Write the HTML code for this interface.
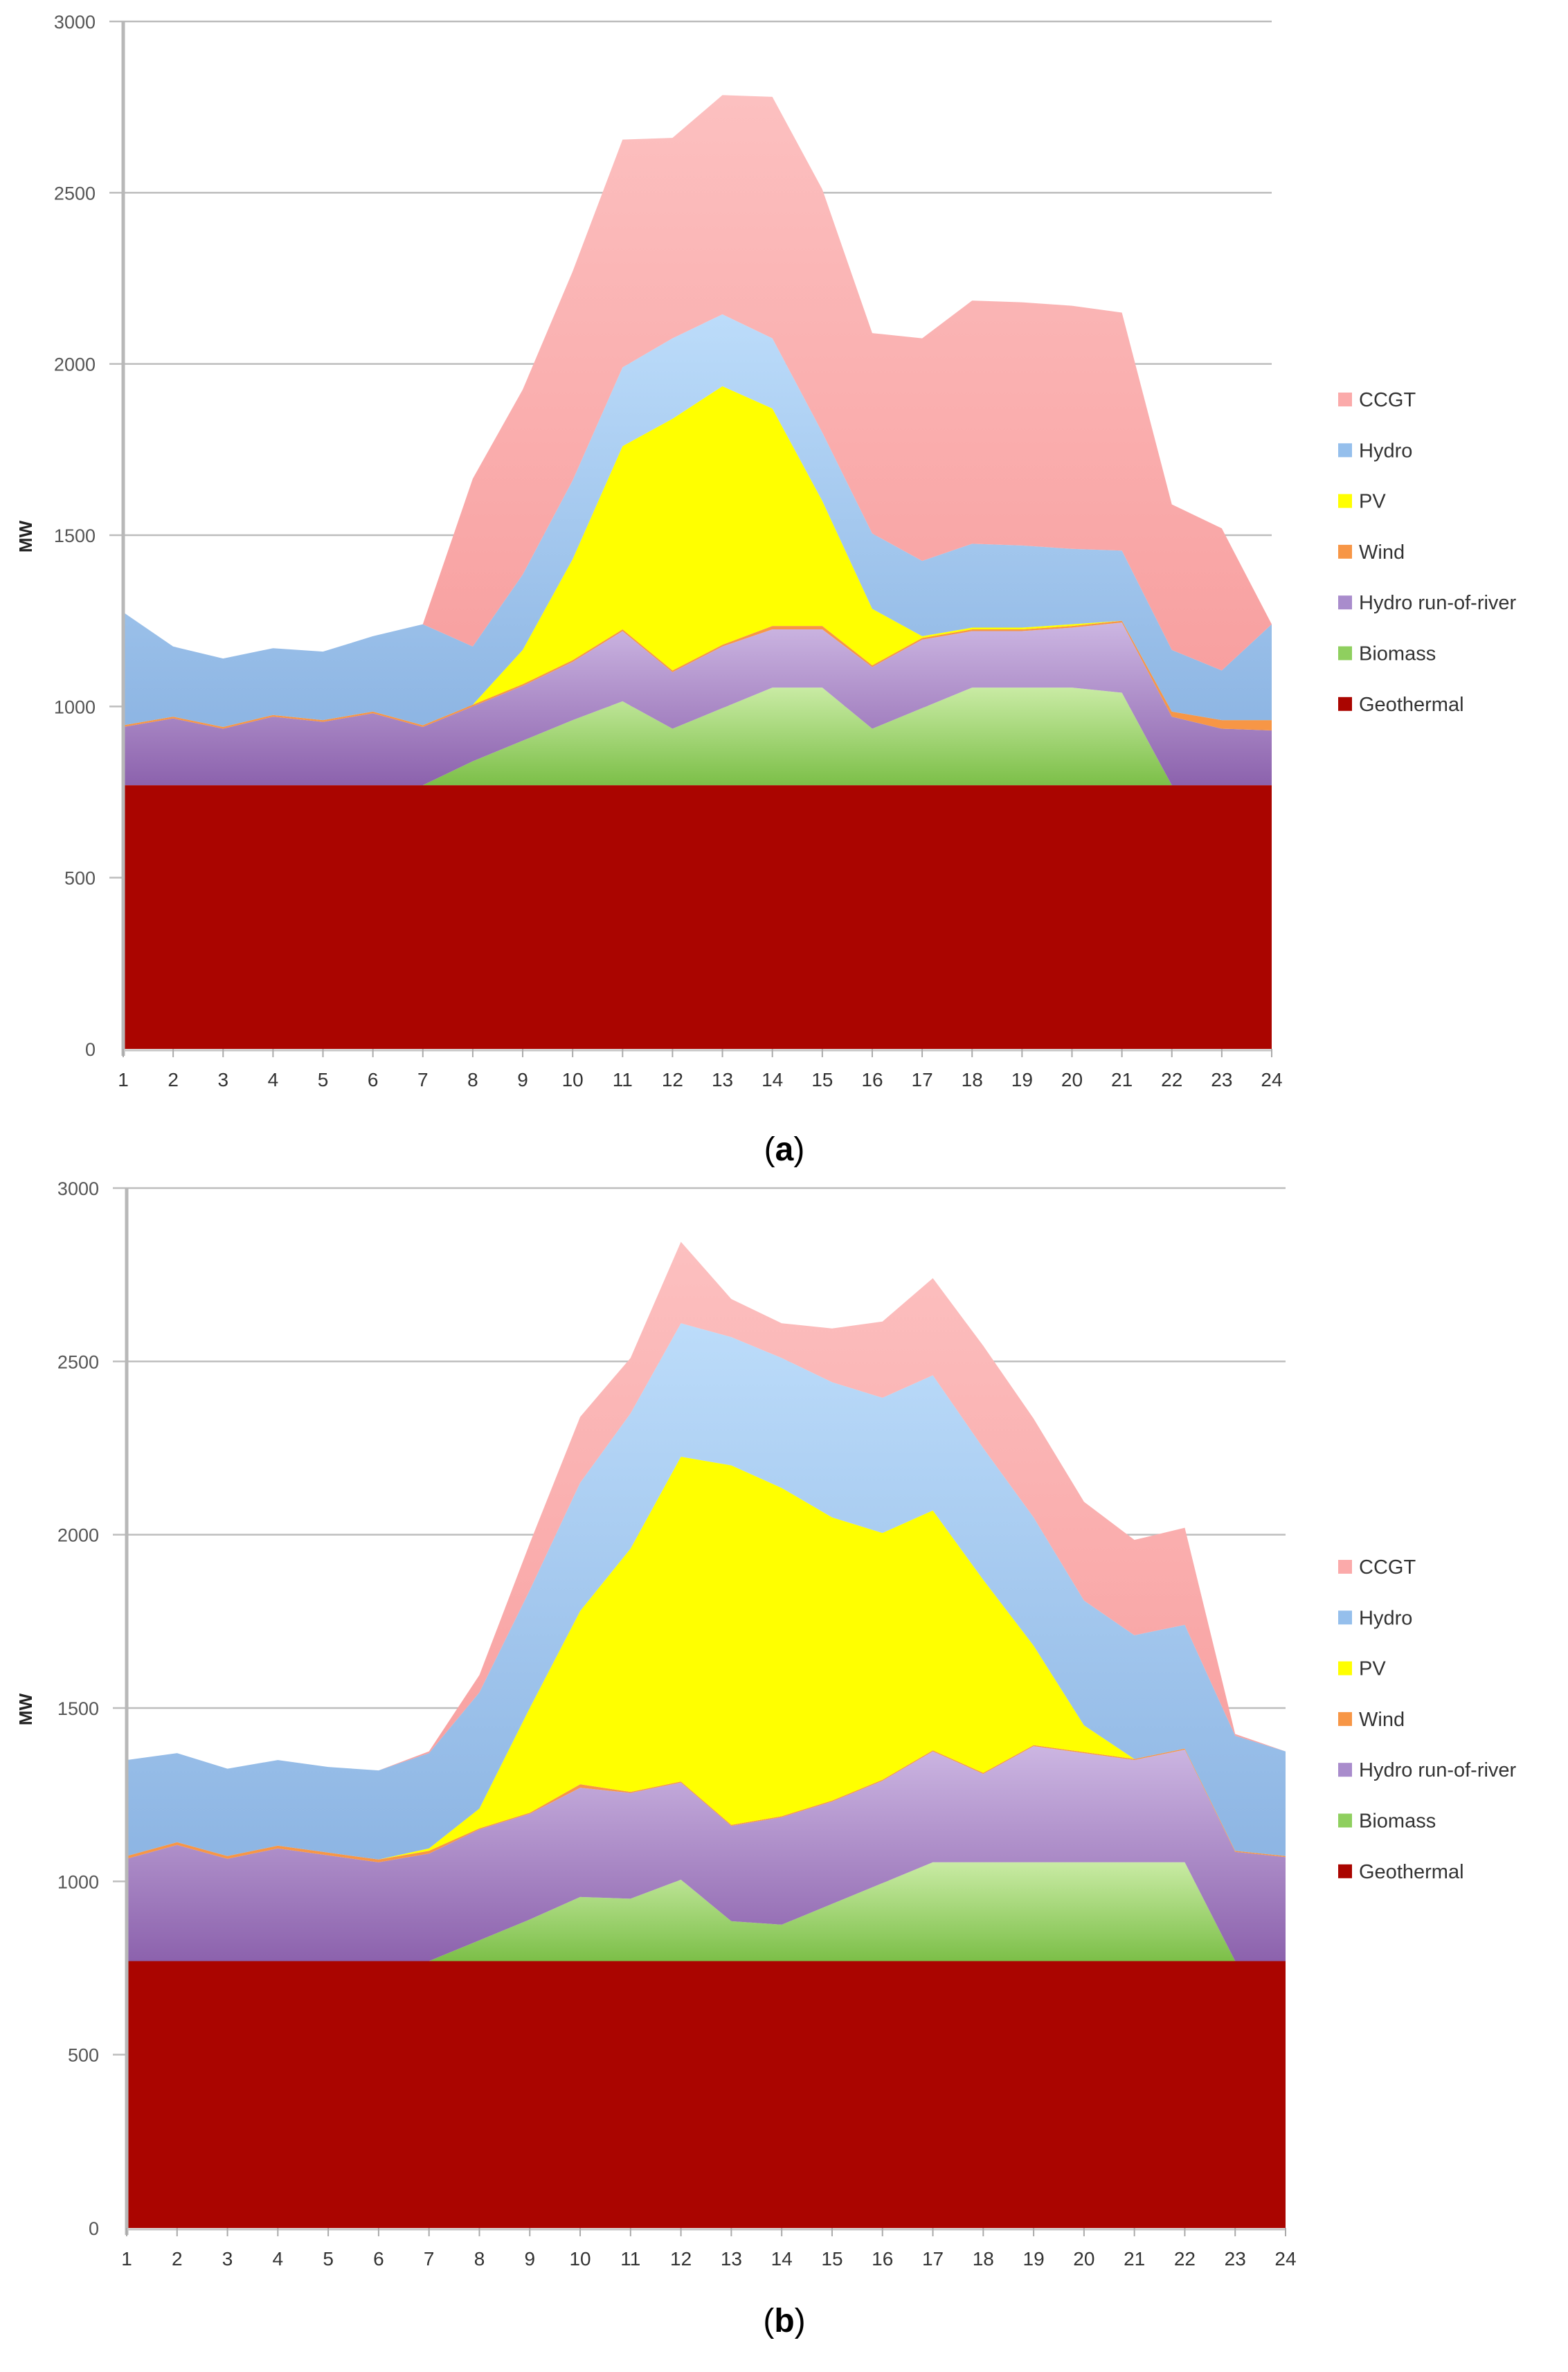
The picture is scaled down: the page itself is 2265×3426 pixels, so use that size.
<!DOCTYPE html>
<html><head><meta charset="utf-8"><style>
html,body{margin:0;padding:0;background:#fff;}
svg{display:block;}
text{font-family:"Liberation Sans",sans-serif;}
</style></head><body>
<svg id="root" width="2265" height="3426" viewBox="0 0 2265 3426">
<defs>
<linearGradient id="gBio" x1="0" y1="0" x2="0" y2="1"><stop offset="0" stop-color="#c9eba4"/><stop offset="1" stop-color="#7cbf48"/></linearGradient>
<linearGradient id="gRor" x1="0" y1="0" x2="0" y2="1"><stop offset="0" stop-color="#ccb6e2"/><stop offset="1" stop-color="#8c62ad"/></linearGradient>
<linearGradient id="gHyd" x1="0" y1="0" x2="0" y2="1"><stop offset="0" stop-color="#bcdcfa"/><stop offset="1" stop-color="#8db5e3"/></linearGradient>
<linearGradient id="gCcg" x1="0" y1="0" x2="0" y2="1"><stop offset="0" stop-color="#fcc0c0"/><stop offset="1" stop-color="#f8a0a0"/></linearGradient>
</defs>
</svg>
<script>
const hours = [1,2,3,4,5,6,7,8,9,10,11,12,13,14,15,16,17,18,19,20,21,22,23,24];
const yTicks = [0,500,1000,1500,2000,2500,3000];
const seriesNames = ["Geothermal","Biomass","Hydro run-of-river","Wind","PV","Hydro","CCGT"];
const a_geo = [770,770,770,770,770,770,770,770,770,770,770,770,770,770,770,770,770,770,770,770,770,770,770,770];
const a_bio = [0,0,0,0,0,0,0,70,130,190,245,165,225,285,285,165,225,285,285,285,270,0,0,0];
const a_ror = [170,195,165,200,185,210,170,160,160,170,205,165,180,170,170,180,200,165,165,175,205,200,165,160];
const a_wind = [5,5,5,5,5,5,5,5,5,5,5,5,5,10,10,5,5,5,5,5,5,15,25,30];
const a_pv = [0,0,0,0,0,0,0,0,100,295,535,735,755,635,365,165,5,5,5,5,0,0,0,0];
const a_hydro = [330,205,200,195,200,220,295,170,220,230,230,235,210,205,200,220,220,245,240,220,205,180,145,280];
const a_ccgt = [0,0,0,0,0,0,0,490,540,610,665,585,640,705,710,585,650,710,710,710,695,425,415,0];
const b_geo = [770,770,770,770,770,770,770,770,770,770,770,770,770,770,770,770,770,770,770,770,770,770,770,770];
const b_bio = [0,0,0,0,0,0,0,60,120,185,180,235,115,105,165,225,285,285,285,285,285,285,0,0];
const b_ror = [295,335,295,325,305,285,310,320,305,315,305,280,275,310,295,295,320,255,335,315,295,325,315,300];
const b_wind = [8,8,8,8,8,8,8,3,3,10,3,3,3,3,3,3,3,3,3,3,3,3,3,3];
const b_pv = [0,0,0,0,0,0,7,57,302,500,702,937,1037,947,817,712,692,557,287,77,0,0,0,0];
const b_hydro = [277,257,252,247,247,257,275,335,340,370,390,385,370,375,390,390,390,380,370,360,357,357,332,302];
const b_ccgt = [0,0,0,0,0,0,5,50,135,190,160,235,110,100,155,220,280,295,285,285,275,280,5,0];

const NS = "http://www.w3.org/2000/svg";
const root = document.getElementById('root');
const fills = ["#aa0500","url(#gBio)","url(#gRor)","#f79646","#ffff00","url(#gHyd)","url(#gCcg)"];
const legendColors = ["#aa0500","#8fcf5f","#a98ccc","#f79646","#ffff00","#95bfec","#fbaaaa"];
function mk(tag, attrs, parent){const e=document.createElementNS(NS,tag);for(const k in attrs)e.setAttribute(k,attrs[k]);(parent||root).appendChild(e);return e;}

function chart(id, g, series, L, R, T, B, legX, legY, label, labelY){
  const grp = mk('g',{});
  
  
  const x = h => L + (h-1)*(R-L)/23;
  const y = v => B - v*(B-T)/3000;
  yTicks.forEach(t=>{
    if(t>0){const gl=mk('line',{x1:L-20,x2:R,y1:y(t),y2:y(t),stroke:'#bdbdbd','stroke-width':2.5},grp);
      
      }
    const tx=mk('text',{x:L-40,y:y(t)+10,'text-anchor':'end','font-size':27,fill:'#555'},grp);
    tx.textContent=t;
    
    
  });
  let base = hours.map(()=>0);
  series.forEach((s,i)=>{
    const top = base.map((b,k)=>b+s[k]);
    let d = 'M'+hours.map((h,k)=>x(h)+','+y(top[k])).join(' L');
    d += ' L'+hours.slice().reverse().map((h,k)=>x(h)+','+y(base[23-k])).join(' L')+' Z';
    const p = mk('path',{d:d,fill:fills[i]},grp);
    
    
    base = top;
  });
  const ax=mk('line',{x1:L,x2:L,y1:T,y2:B+10,stroke:'#b8b8b8','stroke-width':5},grp);
  
  
  const bx=mk('line',{x1:L,x2:R,y1:B+2,y2:B+2,stroke:'#c8c8c8','stroke-width':3},grp);
  
  
  hours.forEach(h=>{
    mk('line',{x1:x(h),x2:x(h),y1:B,y2:B+12,stroke:'#aaa','stroke-width':2},grp);
    const tx=mk('text',{x:x(h),y:B+54,'text-anchor':'middle','font-size':28,fill:'#333'},grp);
    tx.textContent=h;
    
    
  });
  const mw=mk('text',{x:0,y:0,'font-size':26,'font-weight':'bold',fill:'#222','text-anchor':'middle',transform:'translate(46,'+((T+B)/2+2)+') rotate(-90)'},grp);
  mw.textContent='MW';
  
  
  for(let i=6;i>=0;i--){
    const r=6-i;
    const ly=legY + r*73.3;
    const sq=mk('rect',{x:legX,y:ly-10,width:20,height:20,fill:legendColors[i]},grp);
    
    
    const tx=mk('text',{x:legX+30,y:ly+10,'font-size':29,fill:'#333'},grp);
    tx.textContent=seriesNames[i];
    
    
  }
  const lb=mk('text',{x:1133,y:labelY,'text-anchor':'middle','font-size':48,fill:'#000','font-family':'Liberation Serif, serif'},grp);
  lb.innerHTML='(<tspan font-weight="bold">'+label+'</tspan>)';
  
  
}
chart('a',0,[a_geo,a_bio,a_ror,a_wind,a_pv,a_hydro,a_ccgt],178,1837,31,1515,1933,577,'a',1676);
chart('b',0,[b_geo,b_bio,b_ror,b_wind,b_pv,b_hydro,b_ccgt],183,1857,1716,3218,1933,2263,'b',3368);
</script>
</body></html>
